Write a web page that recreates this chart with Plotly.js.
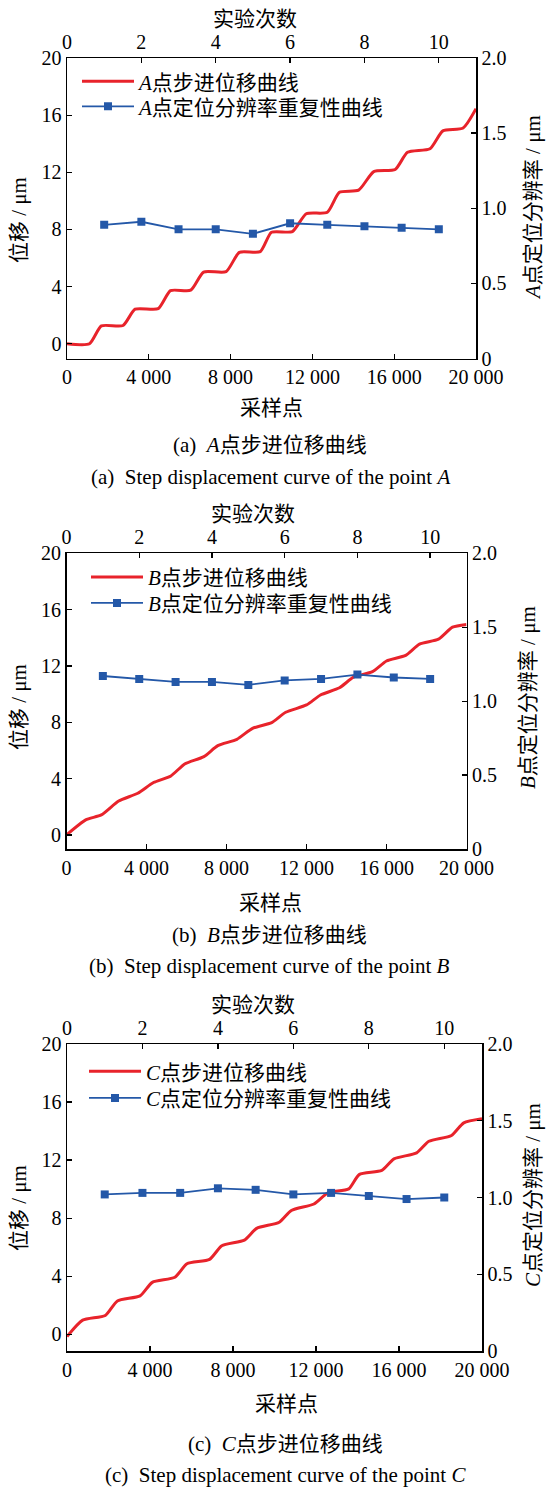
<!DOCTYPE html>
<html>
<head>
<meta charset="utf-8">
<script src="https://cdn.plot.ly/plotly-3.0.1.min.js"></script>
<style>html,body{margin:0;padding:0;background:#fff;}#chart{width:546px;height:1488px;}</style>
</head>
<body>
<div id="chart"></div>
<script>
// ---------- data ----------
const trials = [1, 2, 3, 4, 5, 6, 7, 8, 9, 10];

const sampleA = [0, 1100, 1680, 2740, 3330, 4460, 5060, 6050, 6680, 7780, 8430, 9450, 10000, 11020, 11700, 12730, 13320, 14260, 15000, 16050, 16650, 17750, 18380, 19370, 20000];
const dispA   = [0, 0, 1.25, 1.28, 2.42, 2.46, 3.72, 3.75, 5.02, 5.05, 6.40, 6.45, 7.80, 7.85, 9.10, 9.20, 10.60, 10.75, 12.05, 12.20, 13.40, 13.65, 14.90, 15.10, 16.45];
const resA    = [0.89, 0.91, 0.86, 0.86, 0.83, 0.90, 0.89, 0.88, 0.87, 0.86];

const sampleB = [0, 960, 1740, 2610, 3565, 4350, 5220, 5910, 6870, 7565, 8520, 9300, 10260, 10960, 12000, 12700, 13650, 14350, 15300, 16000, 16960, 17650, 18600, 19300, 20000];
const dispB   = [0.0, 1.07, 1.42, 2.41, 2.96, 3.72, 4.19, 5.04, 5.56, 6.34, 6.79, 7.57, 7.98, 8.71, 9.23, 9.94, 10.45, 11.20, 11.60, 12.35, 12.75, 13.55, 13.90, 14.75, 14.95];
const resB    = [1.17, 1.15, 1.13, 1.13, 1.11, 1.14, 1.15, 1.18, 1.16, 1.15];

const sampleC = [0, 755, 1845, 2430, 3520, 4110, 5200, 5780, 6870, 7460, 8550, 9140, 10230, 10810, 11900, 12570, 13580, 14080, 15170, 15760, 16850, 17440, 18530, 19120, 20000];
const dispC   = [-0.15, 0.98, 1.30, 2.30, 2.65, 3.58, 3.93, 4.86, 5.16, 6.10, 6.49, 7.30, 7.72, 8.53, 8.98, 9.75, 10.02, 11.00, 11.29, 12.09, 12.50, 13.30, 13.70, 14.57, 14.85];
const resC    = [1.02, 1.03, 1.03, 1.06, 1.05, 1.02, 1.03, 1.01, 0.99, 1.00];

const sampleTicks = [0, 4000, 8000, 12000, 16000, 20000];
const sampleTickText = ['0', '4 000', '8 000', '12 000', '16 000', '20 000'];
const trialTicks = [0, 2, 4, 6, 8, 10];
const dispTicks = [0, 4, 8, 12, 16, 20];
const resTicks = [0, 0.5, 1.0, 1.5, 2.0];
const resTickText = ['0', '0.5', '1.0', '1.5', '2.0'];

const pointNames = ['A', 'B', 'C'];
const panelLetters = ['a', 'b', 'c'];

// ---------- layout helpers ----------
const W = 546, H = 1488;
const px = v => v / W;
const py = v => 1 - v / H;
const FONT = 'Liberation Serif, "Times New Roman", "Noto Sans CJK SC", serif';
const RED = '#e8232b';
const BLUE = '#2458a8';

const panels = [
  {samples: sampleA, disp: dispA, res: resA, xd: [67, 476], yd: [58, 358.5], ymin: -1.03,
   topTitle: [255, 19], botTitle: [271, 408], leftTitle: [19, 220], rightTitle: [533, 208],
   cap1: [270, 445], cap2: [270, 477], legX: 77, legY: [81.7, 106.7]},
  {samples: sampleB, disp: dispB, res: resB, xd: [66.5, 466.5], yd: [553.3, 849], ymin: -1.0,
   topTitle: [253, 514], botTitle: [270, 903], leftTitle: [19, 707], rightTitle: [528, 698],
   cap1: [269.5, 935], cap2: [269, 966], legX: 86, legY: [577.3, 603.3]},
  {samples: sampleC, disp: dispC, res: resC, xd: [67, 482], yd: [1044, 1351], ymin: -1.15,
   topTitle: [253, 1005], botTitle: [286, 1404], leftTitle: [19, 1208], rightTitle: [533, 1195],
   cap1: [285, 1444], cap2: [285, 1475], legX: 84, legY: [1071.7, 1098.3]}
];

const data = [];
const layout = {
  width: W, height: H,
  margin: {l: 0, r: 0, t: 0, b: 0, pad: 0},
  paper_bgcolor: '#ffffff', plot_bgcolor: 'rgba(0,0,0,0)',
  font: {family: FONT, size: 20, color: '#000'},
  showlegend: true,
  annotations: []
};

function axisBase() {
  return {
    showgrid: false, zeroline: false, showline: true, linecolor: '#000', linewidth: 1.5,
    ticks: 'inside', ticklen: 5, tickwidth: 1.3, tickcolor: '#000',
    tickfont: {family: FONT, size: 20, color: '#000'}, fixedrange: true
  };
}

function ann(text, xy, extra) {
  return Object.assign({
    text: text, xref: 'paper', yref: 'paper', x: px(xy[0]), y: py(xy[1]),
    xanchor: 'center', yanchor: 'middle', showarrow: false,
    font: {family: FONT, size: 21, color: '#000'}
  }, extra || {});
}

function legendAt(x, y) {
  return {
    x: px(x), y: py(y), xanchor: 'left', yanchor: 'middle',
    bgcolor: 'rgba(0,0,0,0)', borderwidth: 0, itemwidth: 52,
    font: {family: FONT, size: 21, color: '#000'}
  };
}

let legIdx = 0;
function nextLegend() {
  legIdx += 1;
  return legIdx === 1 ? 'legend' : 'legend' + legIdx;
}

panels.forEach((p, i) => {
  const n = i * 2 + 1;
  const m = i * 2 + 2;
  const xb = 'x' + (n === 1 ? '' : n), xt = 'x' + m;
  const yl = 'y' + (n === 1 ? '' : n), yr = 'y' + m;
  const xbKey = 'xaxis' + (n === 1 ? '' : n), xtKey = 'xaxis' + m;
  const ylKey = 'yaxis' + (n === 1 ? '' : n), yrKey = 'yaxis' + m;
  const P = pointNames[i];

  layout[xbKey] = Object.assign(axisBase(), {
    domain: [px(p.xd[0]), px(p.xd[1])], anchor: yl, side: 'bottom',
    range: [0, 20000], tickmode: 'array', tickvals: sampleTicks, ticktext: sampleTickText
  });
  layout[xtKey] = Object.assign(axisBase(), {
    overlaying: xb, anchor: yl, side: 'top',
    range: [0, 11], tickmode: 'array', tickvals: trialTicks
  });
  layout[ylKey] = Object.assign(axisBase(), {
    domain: [py(p.yd[1]), py(p.yd[0])], anchor: xb, side: 'left',
    range: [p.ymin, 20], tickmode: 'array', tickvals: dispTicks
  });
  layout[yrKey] = Object.assign(axisBase(), {
    overlaying: yl, anchor: xb, side: 'right',
    range: [0, 2], tickmode: 'array', tickvals: resTicks, ticktext: resTickText
  });

  const legRed = nextLegend();
  layout[legRed] = legendAt(p.legX, p.legY[0]);
  const legBlue = nextLegend();
  layout[legBlue] = legendAt(p.legX, p.legY[1]);

  data.push({
    type: 'scatter', mode: 'lines', x: p.samples, y: p.disp,
    xaxis: xb, yaxis: yl, legend: legRed,
    name: '<i>' + P + '</i>点步进位移曲线',
    line: {color: RED, width: 3, shape: 'spline', smoothing: 0.6},
    hoverinfo: 'skip'
  });
  data.push({
    type: 'scatter', mode: 'lines+markers', x: trials, y: p.res,
    xaxis: xt, yaxis: yr, legend: legBlue,
    name: '<i>' + P + '</i>点定位分辨率重复性曲线',
    line: {color: BLUE, width: 1.8},
    marker: {symbol: 'square', size: 8, color: BLUE},
    hoverinfo: 'skip'
  });

  layout.annotations.push(ann('实验次数', p.topTitle));
  layout.annotations.push(ann('采样点', p.botTitle));
  layout.annotations.push(ann('位移 / μm', p.leftTitle, {textangle: -90}));
  layout.annotations.push(ann('<i>' + P + '</i>点定位分辨率 / μm', p.rightTitle, {textangle: -90}));
  layout.annotations.push(ann('(' + panelLetters[i] + ')  <i>' + P + '</i>点步进位移曲线', p.cap1));
  layout.annotations.push(ann('(' + panelLetters[i] + ')  Step displacement curve of the point <i>' + P + '</i>', p.cap2));
});

Plotly.newPlot('chart', data, layout, {staticPlot: true, displayModeBar: false});
</script>
</body>
</html>
